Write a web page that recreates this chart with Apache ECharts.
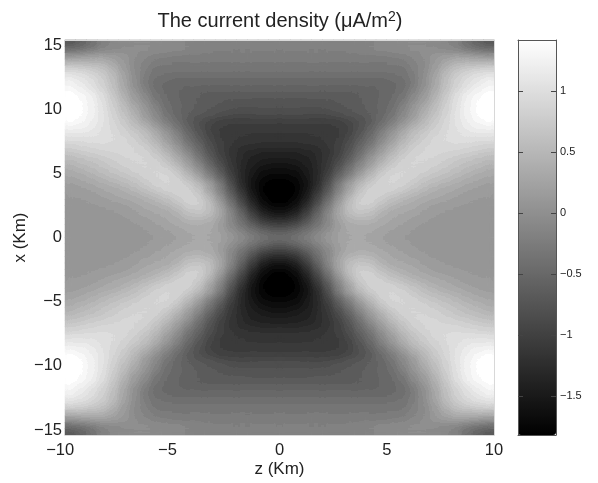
<!DOCTYPE html>
<html><head><meta charset="utf-8">
<style>html,body{margin:0;padding:0;background:#fff}#c{width:598px;height:483px}</style>
<script src="https://cdn.jsdelivr.net/npm/echarts@6/dist/echarts.min.js"></script>
</head><body>
<svg width="0" height="0" style="position:absolute"><defs><filter id="bands" x="0" y="0" width="100%" height="100%" color-interpolation-filters="sRGB">
<feGaussianBlur stdDeviation="3"/>
<feComponentTransfer id="steps"></feComponentTransfer>
</filter></defs></svg>
<div id="c"></div>
<script>
// z-cell centres (km, distance from z=0) - one column per entry of each row below
const zCentres = [0.25,0.75,1.25,1.75,2.25,2.75,3.25,3.75,4.25,4.75,5.25,5.75,6.25,6.75,7.25,7.75,8.25,8.75,9.25,9.75];
// x-cell centres (km, distance from x=0) - one entry per row below
const xCentres = [0.25,0.75,1.25,1.75,2.25,2.75,3.25,3.75,4.25,4.75,5.25,5.75,6.25,6.75,7.25,7.75,8.25,8.75,9.25,9.75,10.25,10.75,11.25,11.75,12.25,12.75,13.25,13.75,14.25,14.75,15.25];
// Current density (uA/m2): the picture mirrors in z and x, so one quadrant is listed
const densityQuadrant = [
[-.48,-.38,-.25,-.08,.08,.21,.29,.30,.27,.21,.16,.13,.10,.08,.07,.06,.06,.06,.06,.06],
[-.76,-.66,-.46,-.25,-.04,.17,.30,.33,.32,.27,.22,.17,.12,.09,.07,.06,.06,.06,.06,.06],
[-1.10,-.98,-.70,-.39,-.11,.19,.36,.41,.40,.33,.27,.21,.16,.13,.10,.08,.06,.06,.06,.06],
[-1.40,-1.25,-.90,-.50,-.10,.27,.50,.58,.54,.39,.31,.27,.22,.17,.13,.10,.07,.06,.06,.06],
[-1.62,-1.48,-1.12,-.65,-.19,.27,.58,.72,.68,.50,.38,.33,.28,.21,.16,.13,.10,.08,.07,.07],
[-1.76,-1.62,-1.30,-.84,-.35,.15,.55,.78,.80,.66,.52,.41,.34,.28,.23,.19,.15,.12,.10,.09],
[-1.82,-1.72,-1.44,-1.00,-.52,0,.44,.74,.84,.77,.66,.54,.45,.37,.30,.26,.21,.16,.13,.12],
[-1.82,-1.74,-1.52,-1.14,-.70,-.19,.24,.62,.80,.84,.80,.72,.60,.48,.39,.33,.27,.21,.18,.15],
[-1.80,-1.73,-1.54,-1.25,-.80,-.24,.20,.50,.72,.84,.86,.80,.70,.60,.50,.42,.36,.29,.24,.20],
[-1.72,-1.67,-1.50,-1.26,-.93,-.52,-.14,.25,.56,.78,.88,.86,.80,.70,.62,.55,.47,.39,.32,.27],
[-1.62,-1.58,-1.45,-1.28,-1.02,-.67,-.31,.06,.38,.66,.82,.86,.84,.78,.72,.64,.56,.48,.42,.35],
[-1.52,-1.48,-1.40,-1.26,-1.07,-.80,-.48,-.12,.19,.48,.70,.82,.86,.84,.78,.72,.64,.57,.51,.44],
[-1.42,-1.40,-1.35,-1.25,-1.10,-.89,-.62,-.28,.07,.34,.60,.76,.86,.88,.84,.78,.72,.67,.61,.55],
[-1.33,-1.32,-1.29,-1.24,-1.12,-.96,-.73,-.43,-.12,.18,.44,.64,.80,.86,.88,.86,.83,.78,.74,.68],
[-1.21,-1.21,-1.19,-1.16,-1.08,-.97,-.78,-.53,-.27,.05,.32,.55,.74,.84,.90,.92,.92,.89,.86,.82],
[-1.14,-1.14,-1.13,-1.11,-1.06,-1.01,-.86,-.64,-.40,-.11,.16,.42,.62,.76,.87,.94,.98,1.00,.98,.97],
[-1.08,-1.08,-1.07,-1.06,-1.04,-1.02,-.90,-.72,-.49,-.19,.08,.34,.55,.71,.82,.92,1.00,1.07,1.10,1.10],
[-1.05,-1.05,-1.05,-1.05,-1.04,-1.02,-.93,-.76,-.59,-.35,-.10,.15,.41,.58,.75,.90,1.02,1.14,1.22,1.26],
[-.95,-.95,-.96,-.97,-.96,-.93,-.86,-.77,-.64,-.45,-.24,-.02,.22,.48,.69,.86,1.04,1.18,1.30,1.38],
[-.81,-.82,-.83,-.84,-.82,-.78,-.72,-.66,-.60,-.50,-.33,-.11,.13,.39,.61,.82,1.04,1.22,1.36,1.42],
[-.77,-.77,-.77,-.77,-.75,-.70,-.66,-.61,-.56,-.50,-.38,-.17,.08,.31,.55,.78,1.02,1.22,1.36,1.42],
[-.71,-.71,-.71,-.70,-.69,-.67,-.64,-.61,-.58,-.50,-.42,-.27,-.03,.19,.47,.73,1.00,1.20,1.35,1.42],
[-.64,-.64,-.64,-.64,-.64,-.64,-.64,-.61,-.58,-.52,-.45,-.33,-.10,.12,.39,.68,.96,1.16,1.30,1.40],
[-.56,-.56,-.56,-.56,-.56,-.56,-.56,-.56,-.54,-.52,-.47,-.40,-.21,.02,.32,.61,.85,1.04,1.18,1.29],
[-.48,-.48,-.48,-.48,-.48,-.48,-.48,-.48,-.48,-.48,-.45,-.40,-.25,0,.28,.57,.80,.97,1.10,1.20],
[-.40,-.40,-.40,-.40,-.40,-.40,-.40,-.40,-.40,-.40,-.38,-.35,-.22,-.01,.24,.53,.75,.89,1.00,1.07],
[-.33,-.33,-.33,-.33,-.33,-.33,-.33,-.33,-.33,-.33,-.32,-.30,-.20,-.04,.18,.43,.62,.72,.80,.83],
[-.27,-.27,-.27,-.27,-.27,-.27,-.27,-.27,-.27,-.27,-.26,-.23,-.15,-.05,.12,.29,.41,.45,.48,.47],
[-.23,-.23,-.23,-.23,-.23,-.23,-.23,-.23,-.23,-.22,-.21,-.18,-.10,-.02,.08,.16,.22,.20,.14,.08],
[-.20,-.20,-.20,-.20,-.20,-.19,-.17,-.15,-.12,-.09,-.06,-.04,-.02,-.02,-.03,-.05,-.12,-.22,-.31,-.37],
[-.18,-.18,-.18,-.18,-.18,-.18,-.17,-.15,-.13,-.11,-.08,-.05,-.04,-.04,-.06,-.10,-.20,-.38,-.56,-.68]
];
const zTicks = [-10,-5,0,5,10];
const xTicks = [-15,-10,-5,0,5,10,15];
const barTicks = [-1.5,-1,-0.5,0,0.5,1];
const densityMin = -1.82, densityMax = 1.42;
const contourLevels = 40;

const zCats = [...zCentres].reverse().map(v=>-v).concat(zCentres);
const xCats = [...xCentres].reverse().map(v=>-v).concat(xCentres);
const nz = zCentres.length, nx = xCentres.length;
const cells = [];
xCats.forEach((_, j) => {
  const row = densityQuadrant[j < nx ? nx-1-j : j-nx];
  zCats.forEach((_, i) => cells.push([i, j, row[i < nz ? nz-1-i : i-nz]]));
});
const fmt = v => String(v).replace('-', '\u2212');
// the minus sign hangs left of the digits, which stay centred on the tick
const fmtHang = v => v < 0 ? fmt(v) + '{h|\u2212}' : String(v);
const FONT = '"Liberation Sans"';
const none = {show:false};
const frameLine = {show:true,onZero:false,lineStyle:{color:'#d8d8d8',width:1}};
const barLine = {show:true,onZero:false,lineStyle:{color:'#555',width:1}};
const barTick = {show:true,inside:true,length:5,customValues:barTicks,lineStyle:{color:'#444',width:1}};

const chart = echarts.init(document.getElementById('c'));
const heat = zlevel => ({
  type:'heatmap',xAxisIndex:0,yAxisIndex:0,data:cells,progressive:0,zlevel,
  emphasis:{disabled:true},itemStyle:{borderWidth:0}
});
chart.setOption({
  animation:false,
  backgroundColor:'#fff',
  textStyle:{fontFamily:FONT},
  title:{
    text:'The current density (\u03bcA/m{sup|2})',
    left:275, textAlign:'center', top:5,
    textStyle:{fontFamily:FONT,fontWeight:'normal',fontSize:20,color:'#222',
      rich:{sup:{fontSize:14,verticalAlign:'top',padding:[0,0,8,0],color:'#222',fontFamily:FONT}}}
  },
  grid:[
    {left:65,top:40,width:429,height:395,containLabel:false},
    {left:518,top:40,width:38,height:395,containLabel:false},
    {left:65,top:45,width:429,height:385,containLabel:false}
  ],
  xAxis:[
    {type:'category',gridIndex:0,data:zCats,show:false},
    {type:'value',gridIndex:0,min:-10,max:10,interval:5,position:'bottom',
     axisLine:frameLine,axisTick:none,splitLine:none,
     axisLabel:{formatter:fmtHang,fontSize:16.5,color:'#222',margin:7,fontFamily:FONT,hideOverlap:false,showMinLabel:true,showMaxLabel:true,
       rich:{h:{fontSize:16.5,color:'transparent',fontFamily:FONT}}},
     name:'z (Km)',nameLocation:'middle',nameGap:26,nameMoveOverlap:false,nameTextStyle:{fontSize:17,color:'#222',fontFamily:FONT}},
    {type:'value',gridIndex:0,min:-10,max:10,interval:5,position:'top',
     axisLine:frameLine,axisTick:none,axisLabel:none,splitLine:none},
    {type:'value',gridIndex:1,min:0,max:1,position:'bottom',z:10,axisLine:barLine,axisTick:none,axisLabel:none,splitLine:none},
    {type:'value',gridIndex:1,min:0,max:1,position:'top',z:10,axisLine:barLine,axisTick:none,axisLabel:none,splitLine:none},
    {type:'value',gridIndex:2,min:-10,max:10,show:false}
  ],
  yAxis:[
    {type:'category',gridIndex:0,data:xCats,show:false},
    {type:'value',gridIndex:0,min:-15,max:15,interval:5,position:'right',
     axisLine:frameLine,axisTick:none,axisLabel:none,splitLine:none},
    {type:'value',gridIndex:1,min:densityMin,max:densityMax,position:'left',z:10,axisLine:barLine,axisTick:barTick,axisLabel:none,splitLine:none},
    {type:'value',gridIndex:1,min:densityMin,max:densityMax,position:'right',z:10,axisLine:barLine,axisTick:barTick,
     axisLabel:{customValues:barTicks,formatter:fmt,fontSize:11,color:'#222',margin:4,fontFamily:FONT},
     splitLine:none},
    {type:'value',gridIndex:2,min:-15,max:15,interval:5,position:'left',
     axisLine:{show:false},axisTick:none,splitLine:none,
     axisLabel:{formatter:fmt,fontSize:16.5,color:'#222',margin:3,fontFamily:FONT,showMinLabel:true,showMaxLabel:true},
     name:'x (Km)',nameLocation:'middle',nameGap:36,nameMoveOverlap:false,nameRotate:90,nameTextStyle:{fontSize:17,color:'#222',fontFamily:FONT}}
  ],
  visualMap:{
    type:'continuous',min:densityMin,max:densityMax,seriesIndex:[0,1],dimension:2,
    left:518,top:40,itemWidth:38,itemHeight:395,calculable:false,text:null,padding:0,
    inRange:{color:['#000000','#ffffff']},z:4
  },
  series:[heat(-2),heat(-1)]
});
// contour look: soften the upper heatmap layer, step its greys into bands, keep it inside the plot
const steps = document.getElementById('steps');
const table = Array.from({length:contourLevels},(_,i)=>(i/(contourLevels-1)).toFixed(3)).join(' ');
['feFuncR','feFuncG','feFuncB'].forEach(n=>{
  const f = document.createElementNS('http://www.w3.org/2000/svg',n);
  f.setAttribute('type','discrete'); f.setAttribute('tableValues',table); steps.appendChild(f);
});
const canvases = document.querySelectorAll('#c canvas');
if (canvases.length >= 3) {
  const soft = canvases[1];
  soft.style.filter = 'url(#bands) blur(0.7px)';
  soft.style.clipPath = 'inset(40px 104px 48px 65px)';
}
</script></body></html>
